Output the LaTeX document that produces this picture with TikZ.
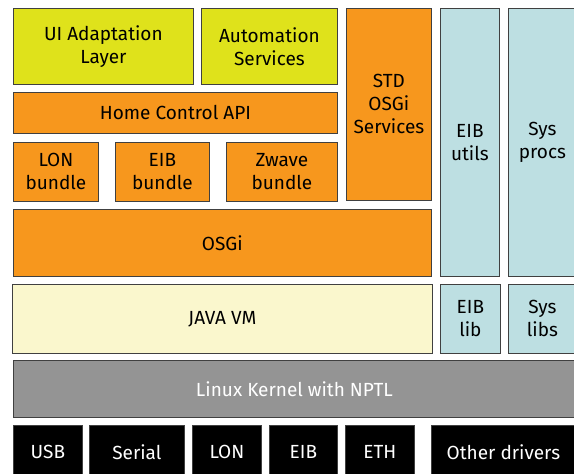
\documentclass[tikz,border=0pt]{standalone}
\usepackage{fontspec}
\setmainfont{Fira Sans}
\usetikzlibrary{positioning}
\definecolor{appyellow}{RGB}{223,226,27}
\definecolor{osgiorange}{RGB}{247,151,29}
\definecolor{vmcream}{RGB}{250,247,205}
\definecolor{nativeblue}{RGB}{189,223,226}
\definecolor{kernelgray}{RGB}{148,148,148}

\begin{document}
\begin{tikzpicture}[
        x=1pt, y=-1pt,
        block/.style={
            rectangle,
            draw=black!75,
            line width=0.8pt,
            anchor=north west,
            inner sep=0pt,
            align=center,
            font=\fontsize{19}{23}\selectfont
        },
        app/.style={block, fill=appyellow},
        osgi/.style={block, fill=osgiorange},
        native/.style={block, fill=nativeblue},
        driver/.style={block, fill=black, text=white, minimum height=54}
    ]
        \useasboundingbox (0,0) rectangle (574,474);
        \clip (0,0) rectangle (574,474);

        % applications
        \node [app, minimum width=180, minimum height=76] (ui) at (13,8) {UI Adaptation\\Layer};
        \node [app, minimum width=136, minimum height=76] (auto) at (201,8) {Automation\\Services};
        \node [osgi, minimum width=324, minimum height=41] (api) at (13,92) {Home Control API};

        % bundles
        \node [osgi, minimum width=85, minimum height=59] (lonbundle) at (13,142) {LON\\bundle};
        \node [osgi, minimum width=94, minimum height=59] (eibbundle) at (115,142) {EIB\\bundle};
        \node [osgi, minimum width=111, minimum height=59] (zwavebundle) at (226,142) {Zwave\\bundle};
        \node [osgi, minimum width=85, minimum height=192] (stdosgi) at (346,8) {STD\\OSGi\\Services};

        % native side
        \node [native, minimum width=59, minimum height=268] (eibutils) at (440,8) {EIB\\utils};
        \node [native, minimum width=68, minimum height=268] (sysprocs) at (508,8) {Sys\\procs};

        \node [osgi, minimum width=418, minimum height=67] (osgi) at (13,209) {OSGi};
        \node [block, fill=vmcream, minimum width=420, minimum height=69] (jvm) at (12,284) {JAVA VM};
        \node [native, minimum width=60, minimum height=69] (eiblib) at (440,284) {EIB\\lib};
        \node [native, minimum width=68, minimum height=69] (syslibs) at (508,284) {Sys\\libs};

        % kernel and drivers
        \node [block, fill=kernelgray, text=white, minimum width=562, minimum height=57] (kernel) at (13,360) {Linux Kernel with NPTL};
        \node [driver, minimum width=69] (usb) at (13,425) {USB};
        \node [driver, minimum width=95] (serial) at (89,425) {Serial};
        \node [driver, minimum width=69] (londrv) at (192,425) {LON};
        \node [driver, minimum width=68] (eibdrv) at (269,425) {EIB};
        \node [driver, minimum width=69] (eth) at (345,425) {ETH};
        \node [driver, minimum width=144] (otherdrv) at (431,425) {Other drivers};
    \end{tikzpicture}
\end{document}
